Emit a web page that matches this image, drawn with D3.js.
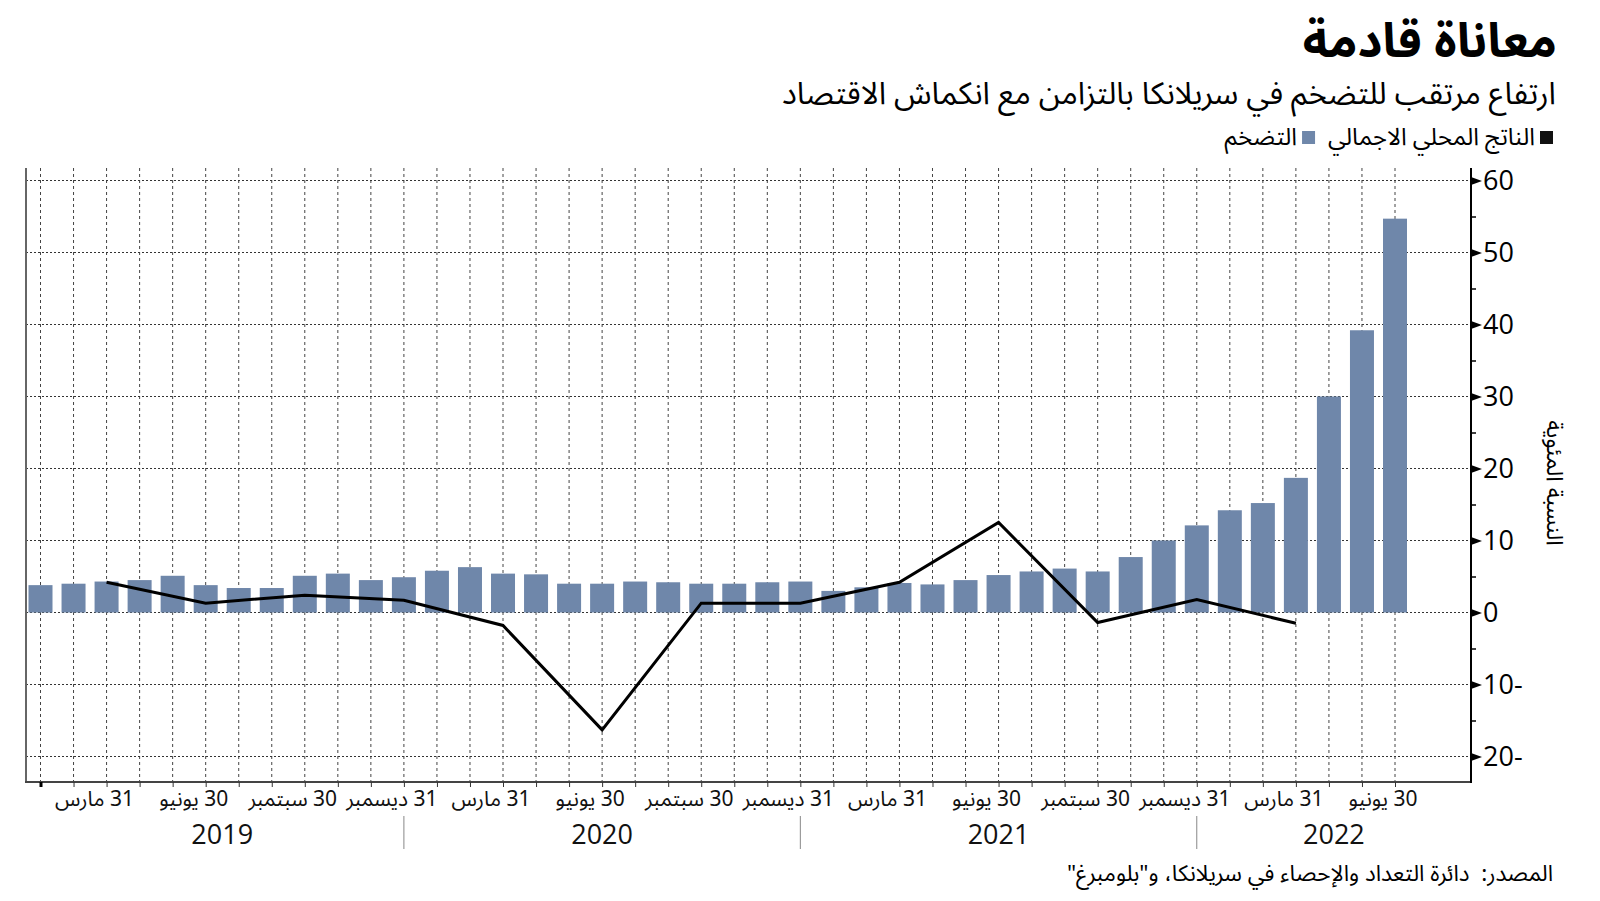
<!DOCTYPE html>
<html>
<head>
<meta charset="utf-8">
<script src="https://cdn.jsdelivr.net/npm/d3@7"></script>
<style>
  body { margin: 0; background: #fff; }
  svg { display: block; }
</style>
</head>
<body>
<div id="chart"></div>
<script>
// monthly CCPI inflation, Jan 2019 - Jun 2022
const months = [
  '2019-01', '2019-02', '2019-03', '2019-04', '2019-05', '2019-06',
  '2019-07', '2019-08', '2019-09', '2019-10', '2019-11', '2019-12',
  '2020-01', '2020-02', '2020-03', '2020-04', '2020-05', '2020-06',
  '2020-07', '2020-08', '2020-09', '2020-10', '2020-11', '2020-12',
  '2021-01', '2021-02', '2021-03', '2021-04', '2021-05', '2021-06',
  '2021-07', '2021-08', '2021-09', '2021-10', '2021-11', '2021-12',
  '2022-01', '2022-02', '2022-03', '2022-04', '2022-05', '2022-06'
];
const inflation = [
  3.8, 4.0, 4.3, 4.5, 5.1, 3.8, 3.4, 3.4, 5.1, 5.4, 4.5, 4.9,
  5.8, 6.3, 5.4, 5.3, 4.0, 4.0, 4.3, 4.2, 4.0, 4.0, 4.2, 4.3,
  3.0, 3.5, 4.1, 3.9, 4.5, 5.2, 5.7, 6.1, 5.7, 7.7, 10.0, 12.1,
  14.2, 15.2, 18.7, 30.0, 39.2, 54.7
];

// quarterly GDP growth
const gdpQuarters = [
  '2019-03', '2019-06', '2019-09', '2019-12',
  '2020-03', '2020-06', '2020-09', '2020-12',
  '2021-03', '2021-06', '2021-09', '2021-12',
  '2022-03'
];
const gdp = [4.2, 1.3, 2.4, 1.7, -1.8, -16.3, 1.3, 1.3, 4.2, 12.5, -1.4, 1.8, -1.5];

const quarterNames = {'03': '31 مارس', '06': '30 يونيو', '09': '30 سبتمبر', '12': '31 ديسمبر'};
const years = ['2019', '2020', '2021', '2022'];
const yTicks = [-20, -10, 0, 10, 20, 30, 40, 50, 60];
const yMinor = [-15, -5, 5, 15, 25, 35, 45, 55];

const title = 'معاناة قادمة';
const subtitle = 'ارتفاع مرتقب للتضخم في سريلانكا بالتزامن مع انكماش الاقتصاد';
const legendItems = [
  {label: 'الناتج المحلي الاجمالي', color: '#111'},
  {label: 'التضخم', color: '#6f87aa'}
];
const yTitle = 'النسبة المئوية';
const source = 'المصدر:  دائرة التعداد والإحصاء في سريلانكا، و"بلومبرغ"';

const arabicFont = '"Noto Sans Arabic", "DejaVu Sans", sans-serif';
const numFont = '"Open Sans", "DejaVu Sans", sans-serif';
const barColor = '#6f87aa';

const width = 1600;
const height = 901;
const plotLeft = 26, plotRight = 1471, plotTop = 168, plotBottom = 782;

const svg = d3.select('#chart')
  .append('svg')
  .attr('width', width)
  .attr('height', height);

svg.append('rect').attr('width', width).attr('height', height).attr('fill', '#fff');

const x = d3.scalePoint().domain(months).range([40.5, 1395]);
const y = d3.scaleLinear().domain([-20, 60]).range([756.5, 180.5]);

// grid
const grid = svg.append('g');
grid.selectAll('.vgrid')
  .data(months)
  .enter().append('line')
  .attr('x1', d => x(d)).attr('x2', d => x(d))
  .attr('y1', plotTop).attr('y2', plotBottom)
  .attr('stroke', '#444')
  .attr('stroke-width', 1)
  .attr('stroke-dasharray', '3,3');

grid.selectAll('.hgrid')
  .data(yTicks)
  .enter().append('line')
  .attr('x1', plotLeft).attr('x2', plotRight)
  .attr('y1', d => y(d)).attr('y2', d => y(d))
  .attr('stroke', '#333')
  .attr('stroke-width', 1)
  .attr('stroke-dasharray', '2,2');

// bars
svg.append('g')
  .selectAll('rect')
  .data(months)
  .enter().append('rect')
  .attr('x', d => x(d) - 12)
  .attr('width', 24)
  .attr('y', (d, i) => y(Math.max(0, inflation[i])))
  .attr('height', (d, i) => Math.abs(y(inflation[i]) - y(0)))
  .attr('fill', barColor);

// gdp line
const line = d3.line()
  .x((d, i) => x(gdpQuarters[i]))
  .y(d => y(d));

svg.append('path')
  .datum(gdp)
  .attr('d', line)
  .attr('fill', 'none')
  .attr('stroke', '#000')
  .attr('stroke-width', 3)
  .attr('stroke-linejoin', 'miter');

// frame
svg.append('line')
  .attr('x1', plotLeft).attr('x2', plotLeft).attr('y1', plotTop).attr('y2', plotBottom)
  .attr('stroke', '#666').attr('stroke-width', 2);
svg.append('line')
  .attr('x1', plotLeft - 1).attr('x2', plotRight).attr('y1', plotBottom).attr('y2', plotBottom)
  .attr('stroke', '#444').attr('stroke-width', 2);

// y axis on the right
const yAxis = d3.axisRight(y)
  .tickValues(yTicks)
  .tickSize(0)
  .tickPadding(12)
  .tickFormat(d => d < 0 ? (-d) + '-' : d);

const yg = svg.append('g')
  .attr('transform', 'translate(' + plotRight + ',0)')
  .call(yAxis);
yg.select('.domain').remove();
yg.selectAll('text')
  .attr('font-family', numFont)
  .attr('font-size', 27)
  .attr('fill', '#000');
yg.selectAll('.tick')
  .append('path')
  .attr('d', 'M0,-4L11,0L0,4Z')
  .attr('fill', '#000');

const yMinorAxis = d3.axisRight(y)
  .tickValues(yMinor)
  .tickSize(5)
  .tickFormat('');
const ym = svg.append('g')
  .attr('transform', 'translate(' + plotRight + ',0)')
  .call(yMinorAxis);
ym.select('.domain').remove();
ym.selectAll('line').attr('stroke', '#000').attr('stroke-width', 1.5);

svg.append('line')
  .attr('x1', plotRight).attr('x2', plotRight).attr('y1', plotTop).attr('y2', plotBottom + 1)
  .attr('stroke', '#000').attr('stroke-width', 2);

svg.append('text')
  .attr('transform', 'translate(1555,483) rotate(90)')
  .attr('text-anchor', 'middle')
  .attr('dy', '0.35em')
  .attr('font-family', arabicFont)
  .attr('font-size', 23)
  .text(yTitle);

// x axis
const xAxis = d3.axisBottom(x)
  .tickSize(5)
  .tickFormat('');
const xg = svg.append('g')
  .attr('transform', 'translate(0,' + plotBottom + ')')
  .call(xAxis);
xg.select('.domain').remove();
xg.selectAll('line').attr('stroke', '#333');
xg.select('.tick line')
  .attr('stroke', '#000')
  .attr('stroke-width', 3);

const quarterTicks = months.filter(m => quarterNames[m.slice(5)]);
svg.append('g')
  .selectAll('text')
  .data(quarterTicks)
  .enter().append('text')
  .attr('x', d => x(d) - 12)
  .attr('y', 806)
  .attr('text-anchor', 'middle')
  .style('direction', 'rtl')
  .attr('font-family', arabicFont)
  .attr('font-size', 21)
  .attr('fill', '#111')
  .text(d => quarterNames[d.slice(5)]);

// year bands
const decTicks = months.filter(m => m.slice(5) === '12');
svg.append('g')
  .selectAll('line')
  .data(decTicks)
  .enter().append('line')
  .attr('x1', d => x(d)).attr('x2', d => x(d))
  .attr('y1', 816).attr('y2', 849)
  .attr('stroke', '#888')
  .attr('stroke-width', 1);

svg.append('g')
  .selectAll('text')
  .data(years)
  .enter().append('text')
  .attr('x', (d, i) => {
    const a = i === 0 ? x(d + '-01') : x((+d - 1) + '-12');
    const b = i === years.length - 1 ? plotRight : x(d + '-12');
    return (a + b) / 2;
  })
  .attr('y', 844)
  .attr('text-anchor', 'middle')
  .attr('font-family', numFont)
  .attr('font-size', 27)
  .attr('fill', '#111')
  .text(d => d);

// titles
svg.append('text')
  .attr('x', 1557).attr('y', 57)
  .attr('text-anchor', 'end')
  .attr('font-family', arabicFont)
  .attr('font-size', 48)
  .attr('font-weight', 'bold')
  .text(title);

svg.append('text')
  .attr('x', 1556).attr('y', 104)
  .attr('text-anchor', 'end')
  .attr('font-family', arabicFont)
  .attr('font-size', 31)
  .text(subtitle);

// legend, laid out right to left
let lx = 1553;
legendItems.forEach(item => {
  svg.append('rect')
    .attr('x', lx - 13).attr('y', 131)
    .attr('width', 13).attr('height', 13)
    .attr('fill', item.color);
  const t = svg.append('text')
    .attr('x', lx - 18).attr('y', 145)
    .attr('text-anchor', 'end')
    .attr('font-family', arabicFont)
    .attr('font-size', 24)
    .text(item.label);
  lx = lx - 18 - t.node().getComputedTextLength() - 13;
});

svg.append('text')
  .attr('x', 1553).attr('y', 881)
  .attr('text-anchor', 'start')
  .style('direction', 'rtl')
  .style('white-space', 'pre')
  .attr('font-family', arabicFont)
  .attr('font-size', 22.5)
  .text(source);
</script>
</body>
</html>
